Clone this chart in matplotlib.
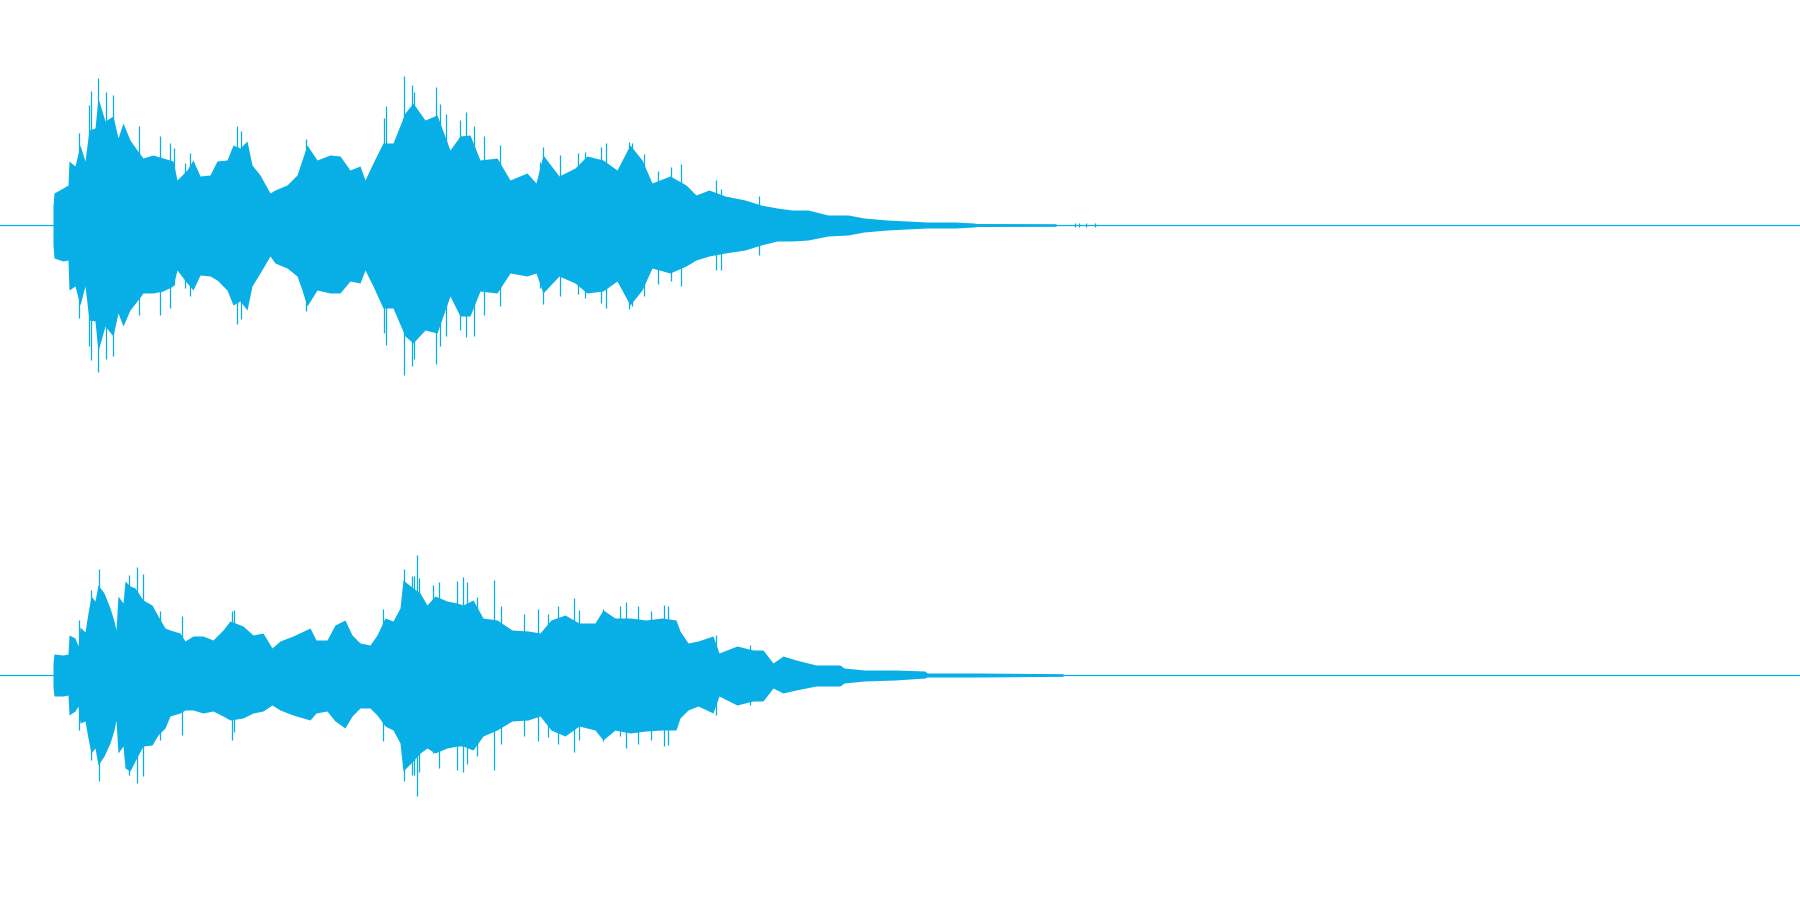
import matplotlib
matplotlib.use("Agg")
import matplotlib.pyplot as plt

COLOR = "#07AFE6"

# channel 1 peak envelope: time column, upper and lower peak
time_a = [53,54,63,68,69,75,80,85,89,95,98,105,113,118,123,130,137,143,153,163,173,177,187,193,200,210,217,227,233,240,247,252,260,270,275,287,297,302,307,317,330,340,350,360,365,373,383,393,405,413,425,437,450,460,470,480,497,510,527,536,543,559,575,587,603,617,630,642,652,670,686,696,709,725,745,761,777,792,808,828,848,864,887,907,927,955,974,976,1055,1057]
up_a = [19,32,37,40,64,59,80,64,95,97,127,104,109,87,102,85,75,67,70,67,64,45,55,65,49,50,64,65,80,77,84,60,50,32,35,40,50,65,80,65,70,69,55,59,45,62,82,82,112,122,105,110,75,89,90,65,67,45,52,42,70,49,57,69,65,55,80,65,42,49,40,30,35,29,25,20,17,15,15,10,10,7,5,4,3,3,2,1.5,1.3,0.5]
down_a = [20,33,36,35,65,61,80,61,95,96,126,101,111,88,101,85,76,68,68,66,61,45,58,65,50,51,55,65,80,76,85,61,48,31,38,43,51,65,81,65,68,68,56,58,45,61,83,83,111,118,105,108,71,91,91,66,68,48,51,48,68,51,58,68,66,56,80,65,43,48,41,35,31,28,25,20,16,16,15,11,10,7,5,4,3,3,2,1.5,1.3,0.5]

# channel 1 isolated peaks
spike_t_a = [89,91,98,106,113,79,139,160,170,174,185,190,237,241,306,384,386,404,412,414,436,440,466,474,484,500,446,460,543,560,606,629,632,681,716,759,540,578,585,601,644,658,671,721,1075,1079,1086,1095]
spike_up_a = [120,134,147,133,130,92,99,89,82,77,62,72,99,94,86,107,119,149,140,133,138,121,113,99,89,80,111,105,78,70,82,83,82,61,45,29,63,72,73,78,71,54,58,36,2,2,2,2]
spike_dn_a = [121,135,147,134,131,93,90,90,83,60,63,71,99,94,86,108,120,150,141,134,139,121,112,111,90,81,111,105,79,71,83,84,81,61,45,30,63,69,73,78,71,59,56,45,2,2,2,2]

# channel 2 peak envelope
time_b = [53,54,63,68,69,75,78,80,85,88,91,95,98,104,110,114,116,118,123,125,130,135,143,152,158,165,170,180,185,193,203,213,223,230,243,253,263,272,280,293,310,316,327,335,345,352,360,370,377,385,393,400,403,413,420,427,435,447,457,463,473,483,497,512,528,540,551,565,579,595,603,615,630,646,662,676,680,688,698,713,719,737,753,763,773,783,796,816,840,844,864,895,925,927,978,1063]
up_b = [12,21,20,21,40,37,29,48,43,62,79,74,90,82,67,54,45,79,72,94,89,87,75,70,59,47,45,42,34,39,39,35,45,54,49,40,42,27,34,39,47,35,35,50,55,40,32,30,40,57,54,67,95,87,82,70,79,74,72,70,75,57,55,45,44,42,55,60,52,52,65,57,57,55,57,55,44,32,34,39,22,29,25,25,12,19,15,10,10,7,5,5,4,2,2,1.3]
down_b = [12,21,21,20,40,36,31,48,46,63,78,73,90,81,68,55,45,78,71,93,96,86,71,70,60,53,41,38,35,35,38,36,41,45,43,38,36,30,35,40,45,38,36,46,53,41,33,33,40,51,55,68,96,86,78,73,78,73,71,71,75,61,55,46,45,41,55,61,51,55,65,55,58,56,55,55,43,35,31,38,21,30,26,26,13,18,15,11,11,8,6,5,3,2,2,1.3]

# channel 2 isolated peaks
spike_t_b = [99,91,137,143,129,404,417,412,414,419,439,457,463,467,494,501,477,79,232,234,160,182,383,433,538,548,558,574,579,603,620,626,638,651,664,668,524,716,750]
spike_up_b = [106,85,108,101,100,106,120,99,99,97,93,94,98,93,95,69,78,55,64,65,64,59,66,90,66,61,69,77,65,66,69,73,69,64,70,69,61,40,30]
spike_dn_b = [106,85,108,101,100,106,121,100,100,97,93,95,97,89,95,69,81,55,65,57,65,60,66,78,66,62,69,77,65,66,61,73,69,65,71,70,61,40,30]

fig = plt.figure(figsize=(18, 9), dpi=100, facecolor="white")
ax_a = fig.add_axes([0, 0.5, 1, 0.5])
ax_b = fig.add_axes([0, 0, 1, 0.5])

for ax, t, up, dn, st, su, sd in [
    (ax_a, time_a, up_a, down_a, spike_t_a, spike_up_a, spike_dn_a),
    (ax_b, time_b, up_b, down_b, spike_t_b, spike_up_b, spike_dn_b),
]:
    ax.axhline(0, color=COLOR, lw=0.9)
    ax.fill_between(t, [-v for v in dn], up, color=COLOR, lw=0)
    ax.vlines(st, [-v for v in sd], su, color=COLOR, lw=0.9)
    ax.set_xlim(0, 1800)
    ax.set_ylim(-225, 225)
    ax.axis("off")

fig.savefig("out.png", dpi=100)
